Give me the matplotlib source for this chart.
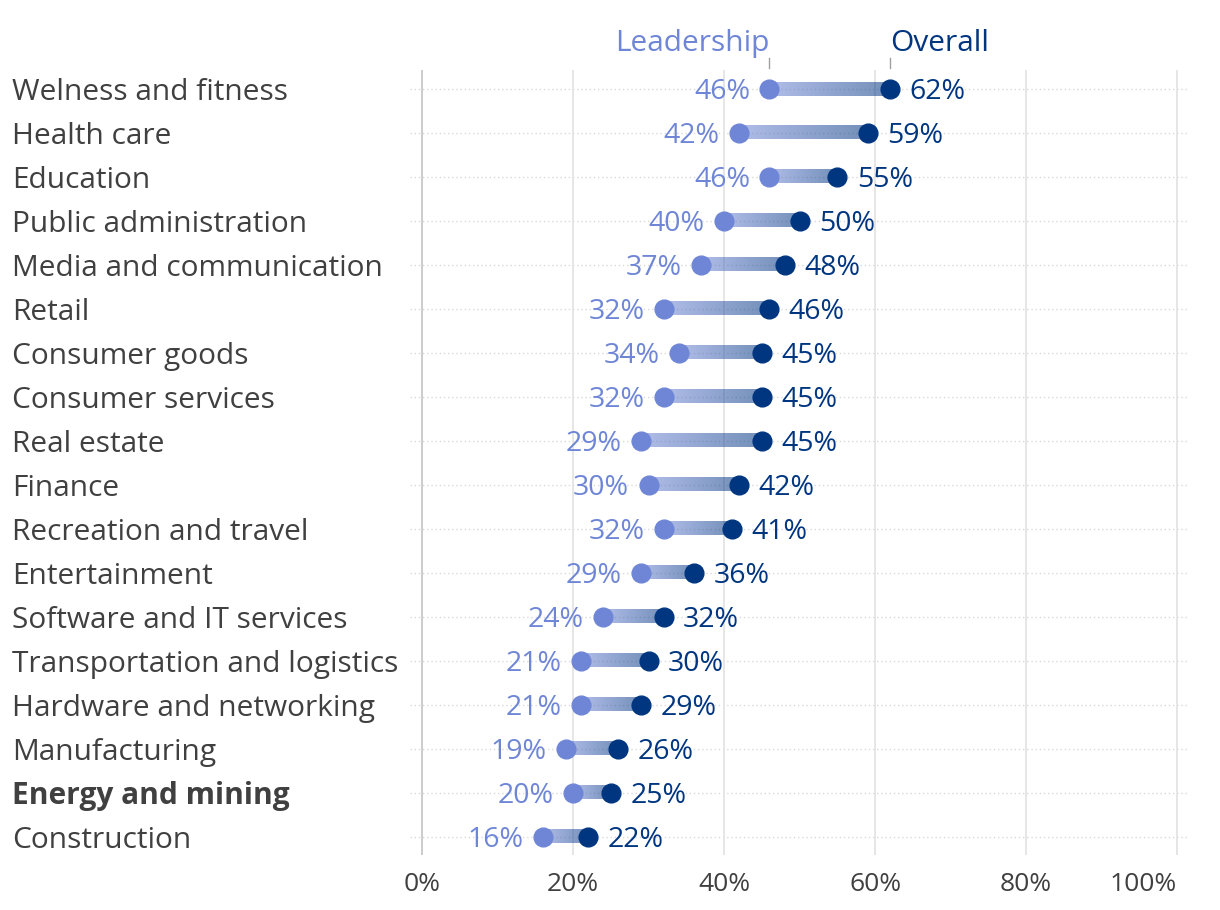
import numpy as np
import matplotlib
matplotlib.use("Agg")
import matplotlib.pyplot as plt
import matplotlib.transforms as mtransforms
from matplotlib.colors import to_rgb

plt.rcParams['font.family'] = ['Open Sans', 'DejaVu Sans']

categories = ["Welness and fitness", "Health care", "Education", "Public administration",
              "Media and communication", "Retail", "Consumer goods", "Consumer services",
              "Real estate", "Finance", "Recreation and travel", "Entertainment",
              "Software and IT services", "Transportation and logistics",
              "Hardware and networking", "Manufacturing", "Energy and mining", "Construction"]
leadership = [46, 42, 46, 40, 37, 32, 34, 32, 29, 30, 32, 29, 24, 21, 21, 19, 20, 16]
overall = [62, 59, 55, 50, 48, 46, 45, 45, 45, 42, 41, 36, 32, 30, 29, 26, 25, 22]
highlight = "Energy and mining"
x_ticks = [0, 20, 40, 60, 80, 100]
x_tick_labels = ["0%", "20%", "40%", "60%", "80%", "100%"]

LIGHT = "#6f86d6"
DARK = "#003580"
TEXT = "#404040"


def gradient_bar(ax, x0, x1, y, h):
    # horizontal gradient from the leadership colour to the overall colour
    n = 64
    c0 = np.array(to_rgb(LIGHT))
    c1 = np.array(to_rgb(DARK))
    t = np.linspace(0, 1, n)[:, None]
    rgb = c0 * (1 - t) + c1 * t
    rgba = np.concatenate([rgb, np.full((n, 1), 0.55)], axis=1)[None, :, :]
    ax.imshow(rgba, extent=[x0, x1, y + h / 2, y - h / 2], aspect="auto",
              interpolation="bilinear", zorder=2)


fig = plt.figure(figsize=(12.2, 9.1), dpi=100)
ax = fig.add_axes([410 / 1220, 55 / 910, 777 / 1220, 785 / 910])

y = np.arange(len(categories))
for i in range(len(categories)):
    gradient_bar(ax, leadership[i], overall[i], y[i], 0.3)

ax.plot(leadership, y, "o", color=LIGHT, markersize=13.5, zorder=3)
ax.plot(overall, y, "o", color=DARK, markersize=13.5, zorder=3)

for i in range(len(categories)):
    ax.annotate("{}%".format(leadership[i]), (leadership[i], y[i]), xytext=(-14, 0),
                textcoords="offset points", ha="right", va="center_baseline",
                fontsize=20.5, color=LIGHT)
    ax.annotate("{}%".format(overall[i]), (overall[i], y[i]), xytext=(14, 0),
                textcoords="offset points", ha="left", va="center_baseline",
                fontsize=20.5, color=DARK)

# category labels, left aligned at figure edge
trans = mtransforms.blended_transform_factory(fig.transFigure, ax.transData)
for i, name in enumerate(categories):
    fig.text(12 / 1220, y[i], name, transform=trans, ha="left", va="center_baseline",
             fontsize=21.5, color=TEXT,
             fontweight="bold" if name == highlight else "normal")

# dotted row guides
for yy in y:
    ax.axhline(yy, color="#d9d9d9", lw=1, ls=(0, (1, 2)), zorder=0)

# vertical grid
for xt in x_ticks:
    ax.axvline(xt, color="#c8c8c8" if xt == 0 else "#e4e4e4", lw=1.3, zorder=0)

ax.set_xlim(-1.6, 101.3)
ax.set_ylim(len(categories) - 0.58, -0.43)
ax.set_xticks(x_ticks)
ax.set_xticklabels(x_tick_labels, fontsize=19, color=TEXT)
ax.get_xticklabels()[-1].set_ha("right")
ax.get_xticklabels()[-1].set_x(100)
ax.tick_params(axis="x", length=0, pad=12)
ax.set_yticks([])
for s in ax.spines.values():
    s.set_visible(False)

# series labels above the first row, with small pointer ticks
top = mtransforms.blended_transform_factory(ax.transData, ax.transAxes)
ax.text(leadership[0], 1 + 12 / 785, "Leadership", transform=top, ha="right", va="bottom",
        fontsize=21.5, color=LIGHT)
ax.text(overall[0], 1 + 12 / 785, "Overall", transform=top, ha="left", va="bottom",
        fontsize=21.5, color=DARK)
for xv in [leadership[0], overall[0]]:
    ax.plot([xv, xv], [1 + 2 / 785, 1 + 12 / 785], transform=top, color="#a0a0a0",
            lw=1, clip_on=False)

fig.savefig("out.png", dpi=100)
